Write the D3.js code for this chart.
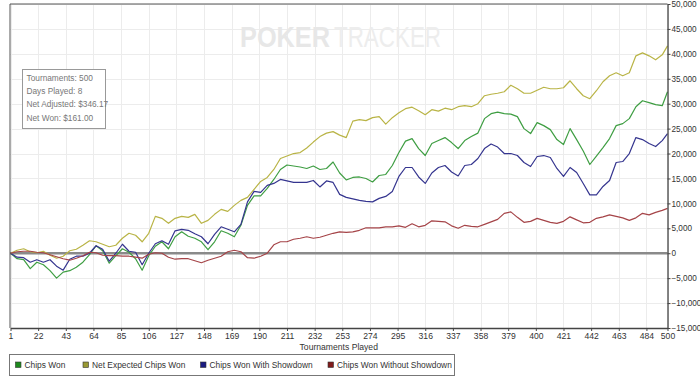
<!DOCTYPE html>
<html>
<head>
<meta charset="utf-8">
<script src="https://cdn.jsdelivr.net/npm/d3@7"></script>
<style>
  body { margin: 0; background: #fff; }
  svg { display: block; font-family: "Liberation Sans", Arial, sans-serif; }
</style>
</head>
<body>
<div id="chart"></div>
<script>
// tournaments sampled along the x axis
var tournaments = [1,6,11,16,21,26,31,36,41,46,51,56,61,66,71,76,81,86,91,96,
  101,106,111,116,121,126,131,136,141,146,151,156,161,166,171,176,181,186,191,196,
  201,206,211,216,221,226,231,236,241,246,251,256,261,266,271,276,281,286,291,296,
  301,306,311,316,321,326,331,336,341,346,351,356,361,366,371,376,381,386,391,396,
  401,406,411,416,421,426,431,436,441,446,451,456,461,466,471,476,481,486,491,496,500];

var chipsWon = [0,-1100,-1300,-3100,-1800,-2300,-3500,-5000,-3800,-3500,
  -2800,-1800,-300,1500,500,-2000,-500,900,200,-1100,
  -3400,-500,1400,2300,900,3300,4300,3400,3000,2300,
  700,2300,4500,4000,3300,5600,9600,11500,11500,13000,
  14800,16800,17700,17500,17300,17000,17500,16800,17000,18300,
  16100,14700,15200,15300,15000,14300,15600,15800,17600,20200,
  22500,23000,21000,19600,22000,22600,23200,22200,21000,22600,
  23400,24100,27000,28000,28300,28000,27900,27400,25000,24000,
  26200,25600,24800,22800,21800,25000,22800,20500,17800,19500,
  21200,23000,25600,26000,27000,29400,30600,30200,29800,29600,32400];

var netExpected = [0,600,900,300,100,400,-400,-1000,-600,500,
  800,1600,2500,2300,1800,1300,1600,3000,4000,3600,
  2300,4000,7400,7000,6000,7000,7400,7200,7800,6000,
  6600,7800,8800,8400,9600,10600,11200,12800,14400,15200,
  16800,19000,19500,20000,20200,21100,22300,23400,24100,24400,
  23700,23200,26500,26800,26600,27200,27400,25900,27200,28200,
  29000,29300,28600,27800,28800,28500,29100,28800,29400,29600,
  29400,30000,31600,31900,32100,32400,33700,33000,32100,32100,
  32700,33300,33000,33000,33200,34600,33000,31600,31000,32600,
  34400,35600,36200,35600,36200,39600,40200,39600,38800,39800,41600];

var withShowdown = [0,-800,-900,-1800,-1300,-1800,-1300,-2600,-3400,-1200,
  -600,-600,0,1500,800,-1600,0,1800,400,200,
  -2300,0,1900,2500,1800,4500,4800,4600,3900,3300,
  1900,3800,5300,4800,4300,5800,10300,12400,12200,13600,
  14000,14800,14500,14200,14200,14200,14600,13300,14500,14200,
  11800,11200,10900,10600,10400,10300,11000,11400,12400,15400,
  17200,17200,15300,14000,16100,17200,17600,16300,15500,17600,
  17800,19000,21000,21900,21300,20000,20000,19600,18200,17400,
  19400,19600,19200,17000,15400,17200,16200,14000,11700,11700,
  13400,14600,18200,18400,20000,23200,22800,22000,21400,22600,24000];

var withoutShowdown = [0,300,400,400,200,100,-300,-700,-1100,-1400,
  -1000,-500,200,100,-400,-500,-500,-600,-600,-800,
  -1000,-200,100,0,-800,-1200,-1100,-1100,-1500,-1900,
  -1400,-1000,-600,300,600,300,-900,-1000,-600,0,
  1700,2300,2300,2800,3000,3300,3000,3200,3600,4000,
  4300,4200,4300,4600,5100,5100,5100,5300,5300,5500,
  5200,5900,5300,5600,6500,6400,6300,5500,5000,5600,
  5400,5300,5800,6300,6800,8000,8300,7200,6200,6400,
  7000,6600,6200,6000,6400,7300,6700,6100,6200,7000,
  7300,7700,7400,7100,6600,7100,8000,7700,8200,8600,9000];

var xTicks = [1,22,43,64,85,106,127,148,169,190,211,232,253,274,295,316,337,358,379,400,421,442,463,484,500];
var yTicks = [-15000,-10000,-5000,0,5000,10000,15000,20000,25000,30000,35000,40000,45000,50000];

var seriesNames = ['Chips Won','Net Expected Chips Won','Chips Won With Showdown','Chips Won Without Showdown'];
var lineColors = ['#3f9e43','#b9b446','#35358f','#a54448'];
var boxColors = ['#1e8a1e','#999933','#1a1a80','#801a1a'];

var infoLines = ['Tournaments: 500','Days Played: 8','Net Adjusted: $346.17','Net Won: $161.00'];

var chart_width = 700, chart_height = 384;
var plotLeft = 10, plotRight = 667.5, plotTop = 4, plotBottom = 328;

var svg = d3.select('#chart')
    .append('svg')
    .attr('width', chart_width)
    .attr('height', chart_height);

var x = d3.scaleLinear().domain([1, 500]).range([plotLeft + 0.5, plotRight]);
var y = d3.scaleLinear().domain([-15000, 50000]).range([plotBottom, plotTop]);

// grid
svg.append('g').selectAll('line')
    .data(xTicks)
    .enter()
    .append('line')
    .attr('x1', function(d){ return Math.round(x(d)) + 0.5; })
    .attr('x2', function(d){ return Math.round(x(d)) + 0.5; })
    .attr('y1', plotTop).attr('y2', plotBottom)
    .attr('stroke', '#ececec');

svg.append('g').selectAll('line')
    .data(yTicks)
    .enter()
    .append('line')
    .attr('x1', plotLeft).attr('x2', plotRight)
    .attr('y1', function(d){ return Math.round(y(d)) + 0.5; })
    .attr('y2', function(d){ return Math.round(y(d)) + 0.5; })
    .attr('stroke', '#ececec');

// watermark
svg.append('text')
    .attr('x', 240).attr('y', 47)
    .attr('textLength', 90).attr('lengthAdjust', 'spacingAndGlyphs')
    .attr('font-size', 29).attr('font-weight', 'bold')
    .attr('fill', '#e7e7e7')
    .text('POKER');
svg.append('text')
    .attr('x', 334).attr('y', 47)
    .attr('textLength', 107).attr('lengthAdjust', 'spacingAndGlyphs')
    .attr('font-size', 29)
    .attr('fill', '#ededed')
    .text('TRACKER');

// zero line
svg.append('line')
    .attr('x1', plotLeft).attr('x2', plotRight)
    .attr('y1', y(0)).attr('y2', y(0))
    .attr('stroke', '#8a8a8a')
    .attr('stroke-width', 2.5);

// series
var line = d3.line()
    .x(function(d, i){ return x(tournaments[i]); })
    .y(function(d){ return y(d); });

var allSeries = [chipsWon, netExpected, withShowdown, withoutShowdown];
svg.append('g').selectAll('path')
    .data(allSeries)
    .enter()
    .append('path')
    .attr('d', line)
    .attr('fill', 'none')
    .attr('stroke', function(d, i){ return lineColors[i]; })
    .attr('stroke-width', 1.2)
    .attr('stroke-linejoin', 'round');

// borders
svg.append('line').attr('x1', plotLeft).attr('x2', plotRight).attr('y1', plotTop).attr('y2', plotTop)
    .attr('stroke', '#555');
svg.append('line').attr('x1', plotLeft).attr('x2', plotLeft).attr('y1', plotTop).attr('y2', plotBottom)
    .attr('stroke', '#555');

// axes
var xAxis = svg.append('g')
    .attr('transform', 'translate(0,' + plotBottom + ')')
    .call(d3.axisBottom(x).tickValues(xTicks).tickSize(3).tickPadding(2).tickSizeOuter(0));
var yAxis = svg.append('g')
    .attr('transform', 'translate(' + plotRight + ',0)')
    .call(d3.axisRight(y).tickValues(yTicks).tickFormat(d3.format(',')).tickSize(3).tickPadding(1).tickSizeOuter(0));

[xAxis, yAxis].forEach(function(a){
    a.select('.domain').attr('stroke', '#444').attr('stroke-width', 1.3);
    a.selectAll('.tick line').attr('stroke', '#444');
    a.selectAll('.tick text')
        .attr('fill', '#333')
        .attr('font-size', 8.6)
        .attr('font-family', '"Liberation Sans", Arial, sans-serif');
});
yAxis.selectAll('.tick text').attr('font-size', 8.2);

svg.append('text')
    .attr('x', (plotLeft + plotRight) / 2)
    .attr('y', 350)
    .attr('text-anchor', 'middle')
    .attr('font-size', 8.6)
    .attr('fill', '#333')
    .text('Tournaments Played');

// info box
svg.append('rect')
    .attr('x', 22.5).attr('y', 69.5)
    .attr('width', 83).attr('height', 59)
    .attr('fill', '#fff')
    .attr('stroke', '#999');
svg.append('g').selectAll('text')
    .data(infoLines)
    .enter()
    .append('text')
    .attr('x', 26.5)
    .attr('y', function(d, i){ return 81 + i * 13.2; })
    .attr('font-size', 8.3)
    .attr('fill', '#777')
    .text(function(d){ return d; });

// legend
svg.append('rect')
    .attr('x', 9.5).attr('y', 354.5)
    .attr('width', 445).attr('height', 21)
    .attr('fill', '#fff')
    .attr('stroke', '#777');

var legendX = [15, 82.5, 200, 327.5];
var legend = svg.append('g').selectAll('g')
    .data(seriesNames)
    .enter()
    .append('g')
    .attr('transform', function(d, i){ return 'translate(' + legendX[i] + ',0)'; });

legend.append('rect')
    .attr('x', 0.5).attr('y', 362)
    .attr('width', 5.5).attr('height', 5.5)
    .attr('fill', function(d, i){ return boxColors[i]; })
    .attr('stroke', '#333')
    .attr('stroke-width', 0.6);

legend.append('text')
    .attr('x', 9.5).attr('y', 367.7)
    .attr('font-size', 8.4)
    .attr('fill', '#333')
    .text(function(d){ return d; });
</script>
</body>
</html>
